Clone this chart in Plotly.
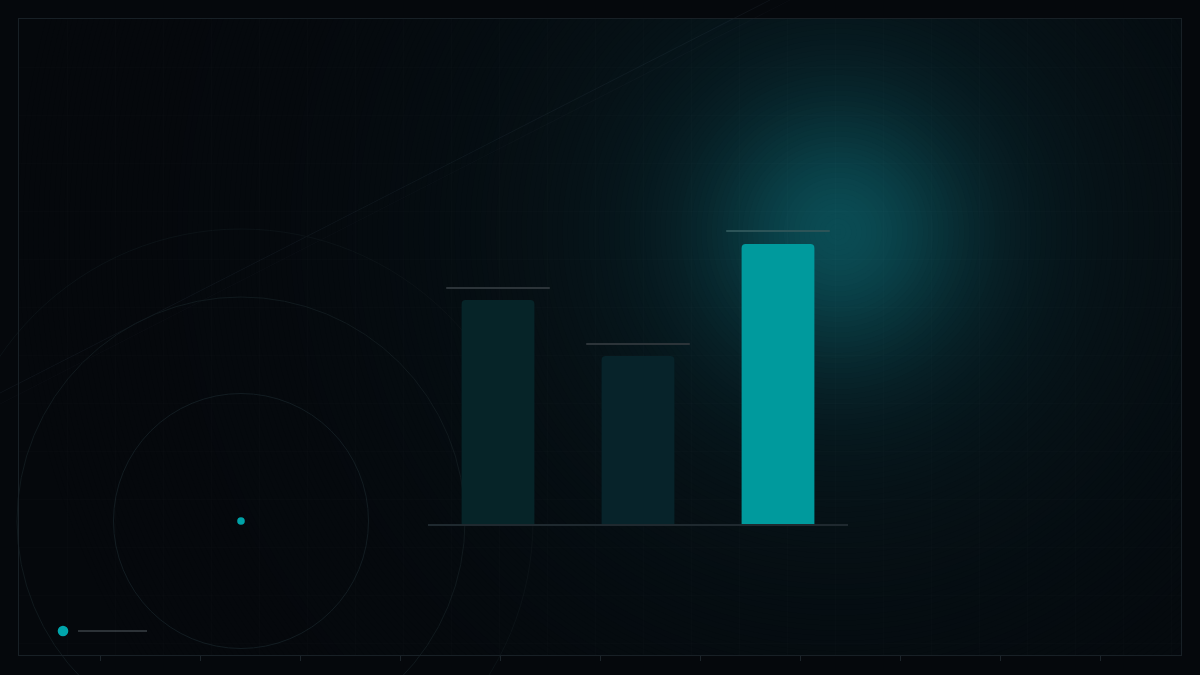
import numpy as np
import plotly.graph_objects as go

W, H = 1200, 675

# bar data
categories = ["A", "B", "C"]
values = [80, 60, 100]
targets = [84.3, 64.3, 104.6]
bar_colors = ["#062428", "#07232a", "#009a9d"]
cap_colors = ["#2c3439", "#2c3439", "#2c5458"]

# ruler ticks under the frame (pixels)
ruler_ticks = [100, 200, 300, 400, 500, 600, 700, 800, 900, 1000, 1100]

BG = np.array([5, 8, 12])


def px(x, y):
    # pixel -> paper coords
    return x / W, 1 - y / H


def circle(cx, cy, r, **kw):
    x0, y1 = px(cx - r, cy - r)
    x1, y0 = px(cx + r, cy + r)
    return dict(type="circle", xref="paper", yref="paper",
                x0=x0, y0=y0, x1=x1, y1=y1, layer="below", **kw)


def rect(xa, ya, xb, yb, color):
    x0, y1 = px(xa, ya)
    x1, y0 = px(xb, yb)
    return dict(type="rect", xref="paper", yref="paper", x0=x0, y0=y0, x1=x1, y1=y1,
                layer="below", fillcolor=color, line_width=0)


def line(xa, ya, xb, yb, color, width=1):
    x0, y0 = px(xa, ya)
    x1, y1 = px(xb, yb)
    return dict(type="line", xref="paper", yref="paper", x0=x0, y0=y0, x1=x1, y1=y1,
                layer="below", line=dict(color=color, width=width))


def glow(cx, cy, n=160, rmax=820):
    # opaque concentric discs, biggest first; colour of each ring = a broad
    # teal haze plus a tighter bright core (no alpha stacking -> no colour drift)
    haze = np.array([10, 70, 80]) - BG
    core = np.array([14, 124, 134]) - BG
    out = []
    for r in np.linspace(rmax, 3, n):
        c = BG + 0.28 * np.exp(-r**2 / (2 * 245**2)) * haze + 0.43 * np.exp(-r**2 / (2 * 92**2)) * core
        c = np.clip(np.round(c), 0, 255).astype(int)
        out.append(circle(cx, cy, r, fillcolor="rgb(%d,%d,%d)" % tuple(c), line_width=0))
    return out


paper = "rgb(%d,%d,%d)" % tuple(BG)
shapes = glow(838, 232)

# keep the haze inside the frame
shapes.append(rect(0, 0, W, 19, paper))
shapes.append(rect(0, 655, W, H, paper))
shapes.append(rect(0, 0, 19, H, paper))
shapes.append(rect(1181, 0, W, H, paper))

# faint diagonal streaks
shapes.append(line(0, 393, 770, 0, "rgba(120,140,160,0.08)"))
shapes.append(line(0, 404, 790, 0, "rgba(120,140,160,0.04)"))

# target rings
shapes.append(circle(241, 521, 292, line=dict(color="#0b1216", width=1)))
shapes.append(circle(241, 521, 224, line=dict(color="#10191d", width=1)))
shapes.append(circle(241, 521, 127.5, line=dict(color="#121c21", width=1)))
shapes.append(circle(241, 521, 3.8, fillcolor="#00a3a8", line_width=0))

# little legend swatch
shapes.append(circle(63, 631, 5.3, fillcolor="#00a5ab", line_width=0))
shapes.append(line(78, 631, 147, 631, "#3a4146", 1.5))

fig = go.Figure()

# empty trace so the frame subplot gets drawn
fig.add_trace(go.Scatter(x=[], y=[], xaxis="x", yaxis="y", hoverinfo="skip"))

fig.add_trace(go.Bar(
    x=categories, y=values, width=0.52,
    marker=dict(color=bar_colors, cornerradius=4, line_width=0),
    xaxis="x2", yaxis="y2", hoverinfo="skip",
))
fig.add_trace(go.Scatter(
    x=categories, y=targets, mode="markers",
    marker=dict(symbol="line-ew", size=74, line=dict(width=2, color=cap_colors)),
    xaxis="x2", yaxis="y2", cliponaxis=False, hoverinfo="skip",
))

fig.update_layout(
    width=W, height=H,
    margin=dict(l=0, r=0, t=0, b=0),
    paper_bgcolor=paper,
    plot_bgcolor="rgba(0,0,0,0)",
    showlegend=False,
    hovermode=False,
    shapes=shapes,
    xaxis=dict(
        domain=[19 / W, 1181 / W], range=[19, 1181], anchor="y",
        tickmode="array", tickvals=ruler_ticks, ticks="outside", ticklen=5,
        tickcolor="#1c242a", tickwidth=1, showticklabels=False,
        showgrid=False, zeroline=False,
        showline=True, mirror=True, linecolor="#182026", linewidth=1,
        minor=dict(tickmode="linear", tick0=19, dtick=48, showgrid=True,
                   gridcolor="rgba(255,255,255,0.012)", ticks=""),
    ),
    yaxis=dict(
        domain=[1 - 655 / H, 1 - 19 / H], range=[655, 19], anchor="x",
        showticklabels=False, ticks="", showgrid=False, zeroline=False,
        showline=True, mirror=True, linecolor="#182026", linewidth=1,
        minor=dict(tickmode="linear", tick0=19, dtick=48, showgrid=True,
                   gridcolor="rgba(255,255,255,0.012)", ticks=""),
    ),
    xaxis2=dict(
        domain=[428 / W, 848 / W], range=[-0.5, 2.5], anchor="y2",
        showticklabels=False, ticks="", showgrid=False, zeroline=False,
        showline=True, linecolor="#1f292f", linewidth=1.5,
    ),
    yaxis2=dict(
        domain=[1 - 524 / H, 1 - 216 / H], range=[0, 110], anchor="x2",
        visible=False,
    ),
)

# drop the browser's default body margin so the canvas sits at 0,0
fig.write_html("out.html", config={"displayModeBar": False},
               post_script="document.body.style.margin='0';document.body.style.background='%s';" % paper)
